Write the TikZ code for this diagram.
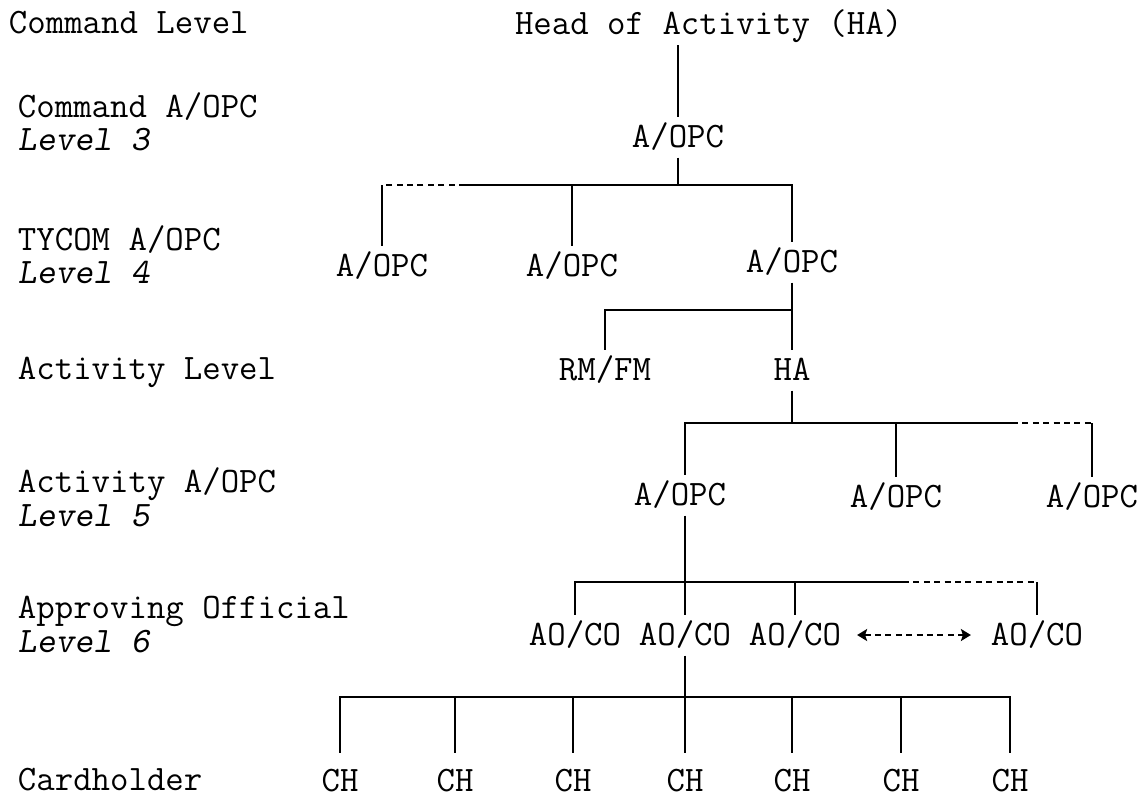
\documentclass[tikz,border=0pt]{standalone}
\usepackage{fontspec}
\usetikzlibrary{arrows.meta}
\newcommand{\unitsep}{5pt}

\begin{document}
\begin{tikzpicture}[x=0.5pt,y=-0.5pt,line width=1pt,
    font=\ttfamily\fontsize{17.9pt}{21pt}\selectfont,
    lvl/.style={anchor=base west, inner sep=0pt},
    unit/.style={inner sep=0pt, outer sep=\unitsep, text height=10.5pt, text depth=0pt},
    gap/.style={line width=1.4pt, dash pattern=on 3pt off 2.2pt}]
    %\draw[help lines,step=50] (0,0) grid (1143,798);
    \useasboundingbox (0,0) rectangle (1143,798);

    % level names on the left
    \node[lvl] (lcmd) at (8,33) {Command Level};
    \node[lvl] (lcopc) at (17,117) {Command A/OPC};
    \node[lvl] (lthree) at (17,150) {\slshape Level 3};
    \node[lvl] (ltycom) at (17,250) {TYCOM A/OPC};
    \node[lvl] (lfour) at (17,283) {\slshape Level 4};
    \node[lvl] (lact) at (17,379) {Activity Level};
    \node[lvl] (laopc) at (17,492) {Activity A/OPC};
    \node[lvl] (lfive) at (17,526) {\slshape Level 5};
    \node[lvl] (lao) at (17,618) {Approving Official};
    \node[lvl] (lsix) at (17,652) {\slshape Level 6};
    \node[lvl] (lch) at (17,790) {Cardholder};

    % the tree
    \node[unit,anchor=west] (hoa) at (505,24) {Head of Activity (HA)};
    \node[unit] (cmd) at (678,137) {A/OPC};
    \node[unit] (ty1) at (382,266) {A/OPC};
    \node[unit] (ty2) at (572,266) {A/OPC};
    \node[unit] (ty3) at (792,262) {A/OPC};
    \node[unit] (rmfm) at (605,370) {RM/FM};
    \node[unit] (act) at (792,370) {HA};
    \node[unit] (a51) at (680,495) {A/OPC};
    \node[unit] (a52) at (896,497) {A/OPC};
    \node[unit] (a53) at (1092,497) {A/OPC};
    \node[unit] (ao1) at (575,635) {AO/CO};
    \node[unit] (ao2) at (685,635) {AO/CO};
    \node[unit] (ao3) at (795,635) {AO/CO};
    \node[unit] (ao4) at (1037,635) {AO/CO};
    \foreach \x [count=\i] in {340,455,573,685,792,901,1010}
        \node[unit,outer sep=9pt] (ch\i) at (\x,781) {CH};

    \coordinate (cmdbar) at (678,185);
    \coordinate (cmdgap) at (465,185);
    \coordinate (tybar) at (792,310);
    \coordinate (actbar) at (792,423);
    \coordinate (actgap) at (1012,423);
    \coordinate (a5bar) at (685,582);
    \coordinate (a5gap) at (903,582);
    \coordinate (aobar) at (685,697);

    \draw (cmd) -- (cmd |- hoa.south);
    \draw (cmd) -- (cmdbar);
    \draw (cmdbar) -| (ty3);
    \draw (cmdbar) -| (ty2);
    \draw (cmdbar) -- (cmdgap);
    \draw[gap] (cmdgap) -- (cmdgap -| ty1);
    \draw (ty1) -- (cmdgap -| ty1);

    \draw (ty3) -- (act);
    \draw (tybar) -| (rmfm);

    \draw (act) -- (actbar);
    \draw (actbar) -| (a51.north -| ao2);
    \draw (actbar) -| (a52);
    \draw (actbar) -- (actgap);
    \draw[gap] (actgap) -- (actgap -| a53);
    \draw (a53) -- (actgap -| a53);

    \draw (a51.south -| ao2) -- (ao2);
    \draw (a5bar) -| (ao1);
    \draw (a5bar) -| (ao3);
    \draw (a5bar) -- (a5gap);
    \draw[gap] (a5gap) -- (a5gap -| ao4);
    \draw (ao4) -- (a5gap -| ao4);
    \draw[gap,{Stealth[length=5pt,width=6pt,inset=1pt]}-{Stealth[length=5pt,width=6pt,inset=1pt]},
        shorten <=3pt,shorten >=5pt] (ao3) -- (ao4);

    \draw (ao2) -- (ch4);
    \foreach \i in {1,2,3,5,6,7}
        \draw (aobar) -| (ch\i);
\end{tikzpicture}
\end{document}
